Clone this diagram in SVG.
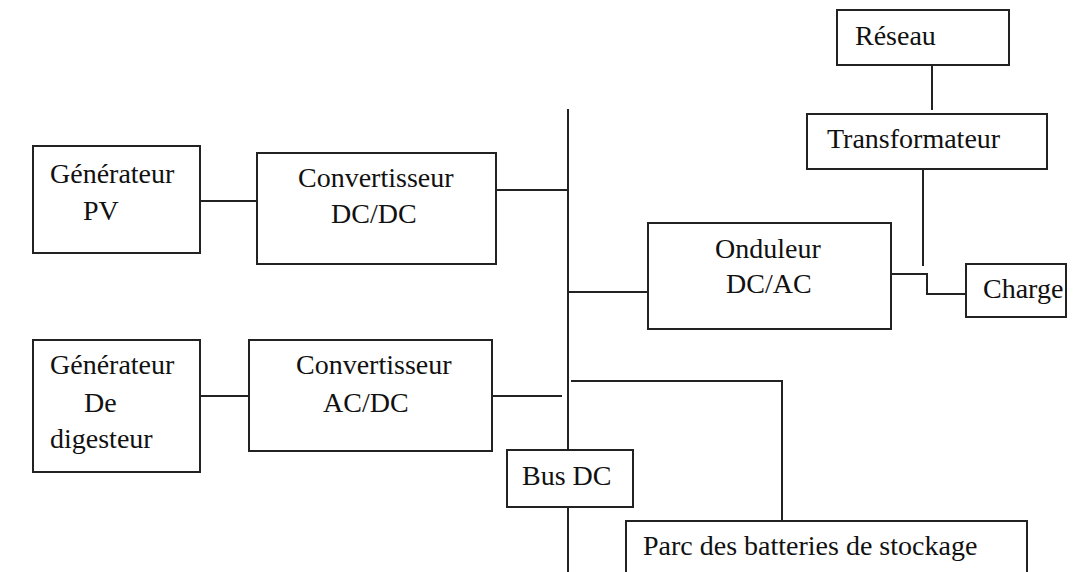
<svg xmlns="http://www.w3.org/2000/svg" width="1078" height="572" viewBox="0 0 1078 572">
<style>
.box{fill:#fff;stroke:#222;stroke-width:2}
.ln{fill:none;stroke:#222;stroke-width:2}
.t{font-family:'Liberation Serif','DejaVu Serif',serif;font-size:28px;fill:#111}
</style>
<rect width="1078" height="572" fill="#fff"/>
<g id="connectors">
<path class="ln" d="M932,65 V110"/>
<path class="ln" d="M923,169 V266"/>
<path class="ln" d="M892,274 H927 V294 H966"/>
<path class="ln" d="M200,201 H257"/>
<path class="ln" d="M496,190 H568"/>
<path class="ln" d="M200,396 H249"/>
<path class="ln" d="M492,396 H562"/>
<path class="ln" d="M568,109 V450"/>
<path class="ln" d="M568,507 V572"/>
<path class="ln" d="M568,292 H648"/>
<path class="ln" d="M571,381 H782 V521"/>
</g>
<g id="reseau"><rect class="box" x="837" y="10" width="172" height="55"/><text class="t" x="855" y="45">Réseau</text></g>
<g id="transformateur"><rect class="box" x="807" y="114" width="240" height="55"/><text class="t" x="827" y="148">Transformateur</text></g>
<g id="generateur-pv"><rect class="box" x="33" y="146" width="167" height="107"/><text class="t" x="50" y="183">Générateur</text><text class="t" x="83" y="220">PV</text></g>
<g id="convertisseur-dcdc"><rect class="box" x="257" y="153" width="239" height="111"/><text class="t" x="298" y="187">Convertisseur</text><text class="t" x="331" y="223">DC/DC</text></g>
<g id="onduleur"><rect class="box" x="648" y="223" width="243" height="106"/><text class="t" x="715" y="258">Onduleur</text><text class="t" x="726" y="293">DC/AC</text></g>
<g id="charge"><rect class="box" x="966" y="264" width="100" height="53"/><text class="t" x="983" y="298">Charge</text></g>
<g id="generateur-digesteur"><rect class="box" x="33" y="340" width="167" height="132"/><text class="t" x="50" y="374">Générateur</text><text class="t" x="84" y="412">De</text><text class="t" x="50" y="448">digesteur</text></g>
<g id="convertisseur-acdc"><rect class="box" x="249" y="340" width="243" height="111"/><text class="t" x="296" y="374">Convertisseur</text><text class="t" x="323" y="412">AC/DC</text></g>
<g id="bus-dc"><rect class="box" x="507" y="450" width="126" height="57"/><text class="t" x="522" y="485">Bus DC</text></g>
<g id="batteries"><rect class="box" x="626" y="521" width="401" height="80"/><text class="t" x="643" y="555">Parc des batteries de stockage</text></g>
</svg>
